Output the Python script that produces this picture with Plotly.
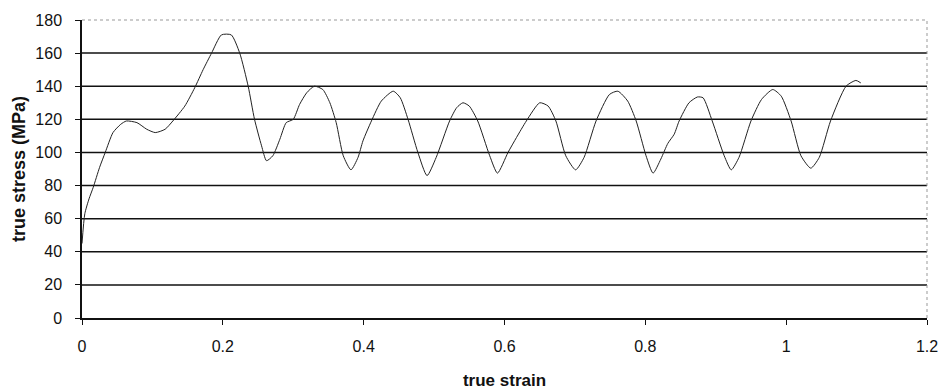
import plotly.graph_objects as go

strain = [0.000, 0.004, 0.010, 0.016, 0.025, 0.033, 0.044, 0.055, 0.063, 0.078,
          0.092, 0.104, 0.118, 0.129, 0.146, 0.160, 0.172, 0.184, 0.198, 0.212,
          0.224, 0.236, 0.245, 0.255, 0.262, 0.271, 0.281, 0.290, 0.300, 0.309,
          0.319, 0.330, 0.342, 0.352, 0.361, 0.371, 0.382, 0.392, 0.399, 0.411,
          0.425, 0.442, 0.452, 0.463, 0.477, 0.490, 0.503, 0.522, 0.532, 0.541,
          0.550, 0.562, 0.579, 0.590, 0.605, 0.617, 0.631, 0.650, 0.662, 0.673,
          0.687, 0.701, 0.713, 0.730, 0.749, 0.761, 0.775, 0.787, 0.801, 0.811,
          0.822, 0.832, 0.841, 0.848, 0.862, 0.874, 0.882, 0.895, 0.912, 0.922,
          0.933, 0.950, 0.965, 0.981, 0.993, 1.007, 1.021, 1.035, 1.047, 1.063,
          1.085, 1.099, 1.106]
stress = [45, 63, 72, 79, 91, 100, 112, 117, 119, 118,
          114, 112, 114, 119, 128, 139, 150, 160, 171, 171,
          160, 140, 120, 104, 95, 98, 108, 118, 120, 129,
          136, 140, 138, 130, 118, 98, 89.5, 97, 107, 119,
          131, 137, 133, 120, 100, 86, 97, 119, 127, 130,
          128, 119, 98, 87.5, 100, 109, 119, 130, 128, 119,
          98, 89.5, 97, 119, 135, 137, 131, 119, 98, 87.5,
          96, 105.5, 111, 119, 130, 133.5, 133, 119, 98, 89.5,
          97, 119, 132, 138, 134, 119, 98, 90.5, 97, 119,
          140, 143.5, 142]

x_ticks = [0, 0.2, 0.4, 0.6, 0.8, 1.0, 1.2]
x_labels = ["0", "0.2", "0.4", "0.6", "0.8", "1", "1.2"]
y_ticks = [0, 20, 40, 60, 80, 100, 120, 140, 160, 180]

fig = go.Figure()
fig.add_trace(go.Scatter(x=strain, y=stress, mode="lines",
                         line=dict(color="#222222", width=1, shape="spline", smoothing=0.6),
                         showlegend=False, hoverinfo="skip"))

shapes = []
for v in y_ticks[1:-1]:
    shapes.append(dict(type="line", xref="paper", yref="y", x0=0, x1=1, y0=v, y1=v,
                       line=dict(color="#111111", width=1.5), layer="below"))
# plot-area border (dotted gray) on top and right
shapes.append(dict(type="line", xref="paper", yref="paper", x0=0, x1=1, y0=1, y1=1,
                   line=dict(color="#999999", width=1, dash="dot")))
shapes.append(dict(type="line", xref="paper", yref="paper", x0=1, x1=1, y0=0, y1=1,
                   line=dict(color="#999999", width=1, dash="dot")))

font_family = "Liberation Sans, Arial, sans-serif"
fig.update_layout(
    width=940, height=390,
    margin=dict(l=82, r=13, t=20, b=72),
    paper_bgcolor="white", plot_bgcolor="white",
    shapes=shapes,
    font=dict(family=font_family, color="#111111", size=16),
    xaxis=dict(range=[0, 1.2], tickvals=x_ticks, ticktext=x_labels,
               automargin=False,
               showgrid=False, zeroline=False,
               showline=True, linecolor="#111111", linewidth=1.5,
               ticks="outside", ticklen=5, tickcolor="#111111",
               tickfont=dict(size=16), ticklabelstandoff=8,
               title=dict(text="<b>true strain</b>", font=dict(size=17), standoff=20)),
    yaxis=dict(range=[0, 180], tickvals=y_ticks,
               automargin=False,
               showgrid=False, zeroline=False,
               showline=True, linecolor="#111111", linewidth=1.5,
               ticks="outside", ticklen=5, tickcolor="#111111",
               tickfont=dict(size=16), ticklabelstandoff=10,
               title=dict(text="<b>true stress (MPa)</b>", font=dict(size=18), standoff=5)),
)

fig.write_html("out.html", config={"displayModeBar": False},
               post_script="document.body.style.margin='0';document.body.style.padding='0';")
